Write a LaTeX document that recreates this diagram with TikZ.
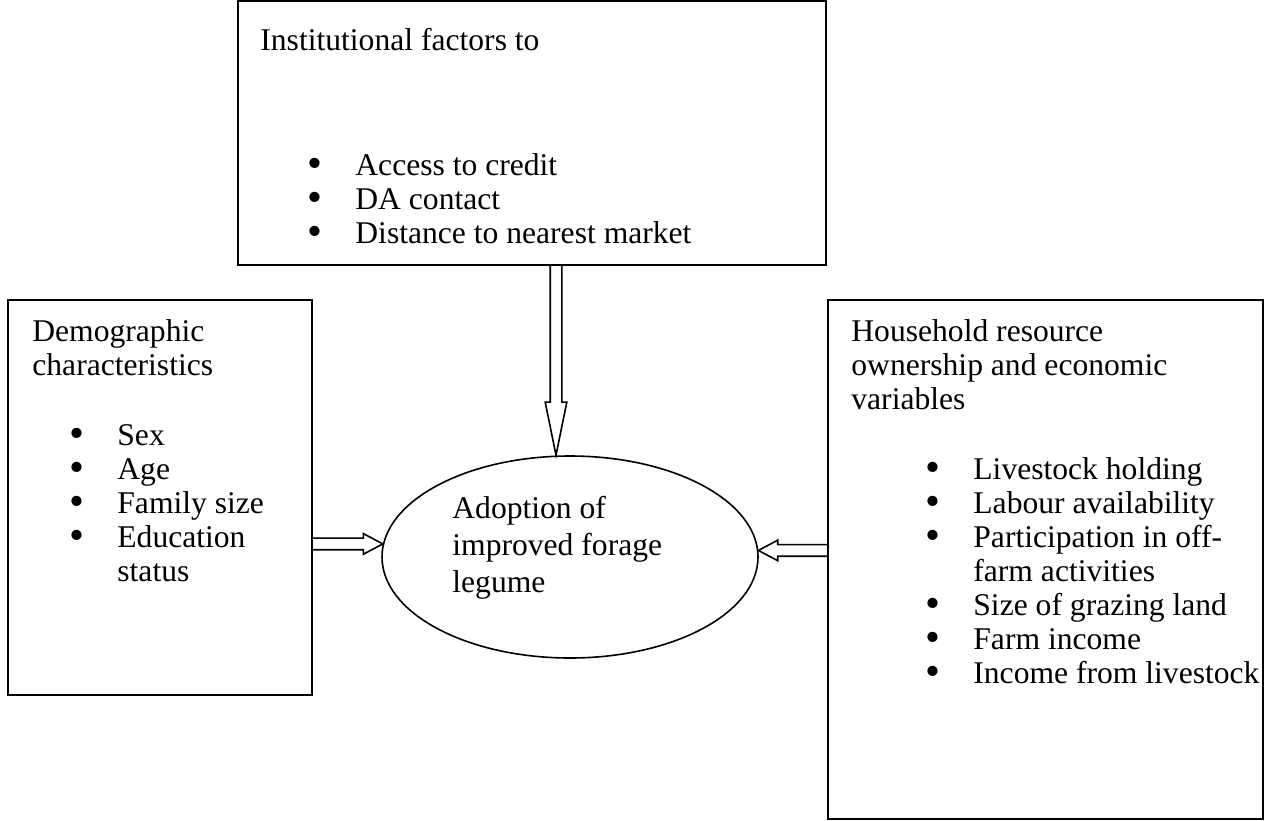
\documentclass[tikz,border=0pt]{standalone}
\usepackage{fontspec}
\setmainfont{Liberation Serif}
\usetikzlibrary{positioning,calc,shapes.geometric,shapes.arrows}
\newcommand{\itm}{\makebox[23.5pt][l]{\hspace*{-0.6pt}\raisebox{-1.1pt}{\scalebox{1.35}{\textbullet}}}}
\tikzset{
factorbox/.style={
  draw=black, line width=0.8pt,
  anchor=north west, inner sep=0pt, outer sep=0pt
  },
boxtext/.style={
  anchor=base west, align=left, inner sep=0pt,
  font=\fontsize{15.8}{17}\selectfont
  },
adopttext/.style={
  boxtext, font=\fontsize{15.8}{18.5}\selectfont
  }
}
\tikzset{
  hollow/.style={
    single arrow, draw=black, fill=white, line width=0.8pt,
    inner xsep=0pt, inner ysep=2.5pt, outer sep=0pt, anchor=tail
  },
  vhollow/.style={hollow, single arrow head extend=2.5pt, single arrow tip angle=23},
  hhollow/.style={hollow, single arrow head extend=2.25pt, single arrow tip angle=56}
}
\begin{document}
\begin{tikzpicture}[x=0.5pt,y=-0.5pt]
\useasboundingbox (0,0) rectangle (1267,820);

% boxes and ellipse
\node[factorbox, minimum width=294pt, minimum height=132pt] (inst) at (238,1) {};
\node[factorbox, minimum width=152pt, minimum height=197.5pt] (demo) at (8,300) {};
\node[factorbox, minimum width=217.5pt, minimum height=259.5pt] (house) at (828,300) {};
\node[draw=black, ellipse, line width=0.8pt, inner sep=0pt,
  minimum width=188pt, minimum height=101pt] (adopt) at (570,557) {};

% texts (base = last line)
\node[boxtext] (insttitle) at (260,50) {Institutional factors to};
\node[boxtext] (instlist) at (308,243)
  {\itm Access to credit\\ \itm DA contact\\ \itm Distance to nearest market};

\node[boxtext] (demotitle) at (32,375) {Demographic\\characteristics};
\node[boxtext] (demolist) at (70,581)
  {\itm Sex\\ \itm Age\\ \itm Family size\\ \itm Education\\ \hspace*{23.5pt}status};

\node[boxtext] (housetitle) at (851,409)
  {Household resource\\ownership and economic\\variables};
\node[boxtext] (houselist) at (926,683)
  {\itm Livestock holding\\ \itm Labour availability\\ \itm Participation in off-\\
   \hspace*{23.5pt}farm activities\\ \itm Size of grazing land\\ \itm Farm income\\
   \itm Income from livestock};

\node[adopttext] (adoptlabel) at (452,592) {Adoption of\\improved forage\\legume};

% hollow arrows
\coordinate (toptip) at ([xshift=-7pt]adopt.north);
\path let \p1=(toptip |- inst.south), \p2=(toptip),
  \n1={veclen(\x2-\x1,\y2-\y1)} in
  node[vhollow, minimum height=\n1, rotate=-90] (arrinst) at (\p1) {};

\path let \p1=(demo.east |- adopt.176), \p2=(adopt.176),
  \n1={veclen(\x2-\x1,\y2-\y1)} in
  node[hhollow, minimum height=\n1] (arrdemo) at (\p1) {};

\path let \p1=(house.west |- adopt.2), \p2=(adopt.2),
  \n1={veclen(\x2-\x1,\y2-\y1)} in
  node[hhollow, minimum height=\n1, rotate=180] (arrhouse) at (\p1) {};

\end{tikzpicture}
\end{document}
